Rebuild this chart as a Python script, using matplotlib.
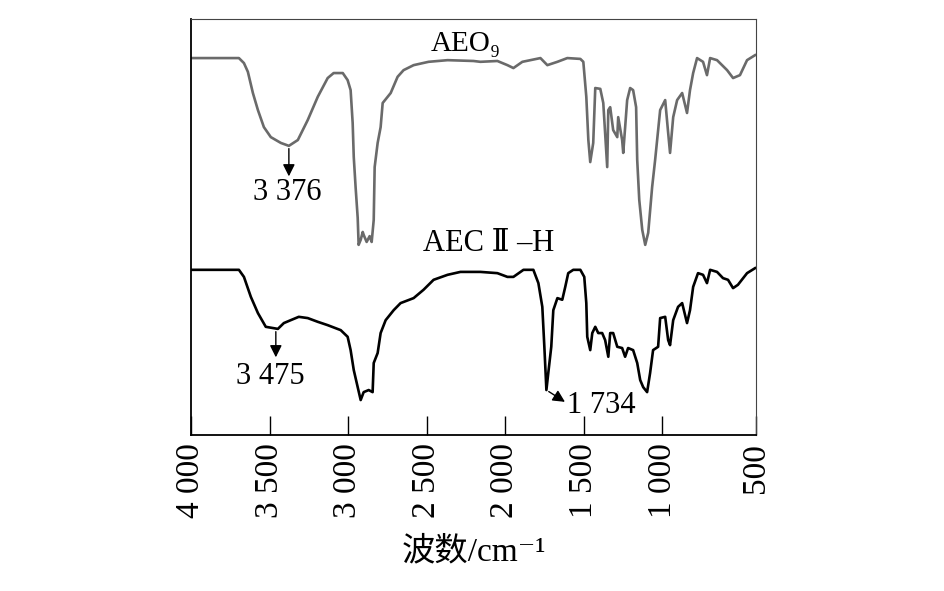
import numpy as np
import matplotlib
matplotlib.use("Agg")
import matplotlib.pyplot as plt

# font list: serif for latin text, fallbacks for roman numeral and chinese
fams = ['Liberation Serif', 'DejaVu Serif', 'Noto Sans CJK SC']
plt.rcParams['font.family'] = fams

# AEO9 spectrum (wavenumber cm-1, transmittance a.u.)
aeo_w = [3994, 3695, 3663, 3638, 3606, 3574, 3536, 3492, 3428, 3377, 3320, 3257, 3193,
         3130, 3092, 3034, 3003, 2984, 2971, 2964, 2952, 2939, 2933, 2920, 2907, 2901,
         2882, 2863, 2850, 2837, 2831, 2812, 2793, 2780, 2729, 2685, 2647, 2583, 2488,
         2367, 2202, 2158, 2050, 1986, 1948, 1891, 1776, 1732, 1668, 1605, 1522, 1503,
         1484, 1471, 1459, 1440, 1427, 1395, 1376, 1351, 1344, 1332, 1313, 1287, 1281,
         1256, 1249, 1224, 1205, 1186, 1167, 1160, 1147, 1128, 1109, 1090, 1065, 1046,
         1014, 982, 963, 951, 931, 906, 874, 843, 824, 804, 779, 741, 716, 696, 652,
         588, 550, 506, 461, 410]
aeo_t = [90.6, 90.6, 89.4, 87.3, 82.2, 78.1, 74.0, 71.6, 70.2, 69.5, 70.9, 75.7, 81.3,
         85.8, 87.0, 87.0, 85.3, 82.9, 75.0, 66.8, 59.4, 52.2, 45.7, 46.9, 48.8, 48.1,
         46.4, 47.8, 46.4, 51.7, 64.4, 70.2, 74.0, 79.8, 82.2, 86.1, 87.7, 88.9, 89.7,
         90.1, 89.9, 89.7, 89.9, 88.9, 88.2, 89.7, 90.6, 88.9, 89.7, 90.6, 90.4, 89.7,
         81.3, 70.9, 65.6, 70.2, 83.4, 83.2, 79.8, 64.4, 78.1, 78.8, 73.3, 71.6, 76.4,
         70.9, 67.8, 80.5, 83.4, 82.9, 78.8, 66.1, 56.5, 49.3, 45.7, 48.6, 59.6, 66.1,
         78.1, 80.5, 72.6, 67.8, 76.4, 80.5, 82.2, 77.4, 82.9, 87.0, 90.6, 89.7, 86.5,
         90.6, 90.1, 87.7, 85.8, 86.5, 90.1, 91.3]

# AECII-H spectrum
aec_w = [3994, 3695, 3663, 3619, 3574, 3524, 3447, 3409, 3365, 3314, 3257, 3193, 3130,
         3047, 3003, 2984, 2964, 2939, 2920, 2901, 2869, 2844, 2837, 2812, 2793, 2761,
         2710, 2666, 2583, 2520, 2456, 2367, 2285, 2158, 2050, 1986, 1948, 1884, 1821,
         1789, 1764, 1751, 1738, 1726, 1707, 1694, 1668, 1637, 1618, 1599, 1567, 1522,
         1497, 1484, 1478, 1459, 1446, 1427, 1408, 1383, 1364, 1344, 1332, 1313, 1287,
         1256, 1237, 1218, 1186, 1160, 1141, 1122, 1097, 1078, 1059, 1027, 1014, 982,
         963, 951, 931, 900, 874, 843, 824, 804, 773, 741, 716, 696, 652, 614, 582,
         550, 519, 461, 410]
aec_t = [39.7, 39.7, 38.0, 33.2, 29.3, 26.0, 25.5, 26.9, 27.6, 28.4, 28.1, 27.2, 26.4,
         25.2, 23.6, 20.4, 15.6, 11.5, 8.4, 10.3, 10.8, 10.3, 17.3, 19.7, 24.5, 27.6,
         30.0, 31.7, 32.9, 34.9, 37.3, 38.5, 39.2, 39.2, 38.9, 38.0, 38.0, 39.7, 39.7,
         36.5, 30.8, 21.2, 10.8, 14.9, 21.2, 30.0, 32.9, 32.5, 35.6, 38.9, 39.7, 39.7,
         38.0, 31.7, 23.6, 20.4, 24.5, 26.0, 24.5, 24.5, 22.8, 18.8, 24.5, 24.5, 21.2,
         20.9, 18.8, 20.9, 20.4, 17.3, 13.2, 11.5, 10.3, 14.9, 20.4, 21.2, 28.1, 28.4,
         22.8, 21.6, 27.6, 30.8, 31.7, 26.9, 30.0, 35.6, 38.9, 38.5, 36.5, 39.7, 39.2,
         37.7, 37.3, 35.3, 36.1, 38.9, 40.1]

tick_pos = [4000, 3500, 3000, 2500, 2000, 1500, 1000, 404]
tick_lab = ["4 000", "3 500", "3 000", "2 500", "2 000", "1 500", "1 000", "500"]

fig = plt.figure(figsize=(9.45, 5.91), dpi=100)
ax = fig.add_axes([0.2021, 0.264, 0.5979, 0.7039])

ax.plot(aeo_w, aeo_t, color='#6a6a6a', lw=1.9)
ax.plot(aec_w, aec_t, color='black', lw=1.9)

ax.set_xlim(4000, 404)
ax.set_ylim(0, 100)
ax.set_yticks([])
ax.set_xticks(tick_pos)
ax.set_xticklabels(tick_lab, rotation=90, fontsize=24)
ax.tick_params(axis='x', direction='in', length=14, width=1, pad=6)
ax.set_xlabel("波数/cm⁻¹", fontsize=24, labelpad=13)

for s in ['left', 'bottom']:
    ax.spines[s].set_linewidth(1.3)
for s in ['top', 'right']:
    ax.spines[s].set_linewidth(0.8)
    ax.spines[s].set_color('#444444')

# curve names
ax.text(2475, 94.0, "AEO₉", fontsize=21, ha='left', va='center')
ax.text(2526, 46.0, "AEC Ⅱ –H", fontsize=22, ha='left', va='center')

# peak marks
arw = dict(arrowstyle='-|>', color='black', lw=1.0, mutation_scale=18)
ax.annotate("", xy=(3377, 61.5), xytext=(3377, 69.5), arrowprops=arw)
ax.text(3387, 58.3, "3 376", fontsize=22, ha='center', va='center')
ax.annotate("", xy=(3460, 18.0), xytext=(3460, 25.5), arrowprops=arw)
ax.text(3492, 14.0, "3 475", fontsize=22, ha='center', va='center')
ax.annotate("", xy=(1605, 7.6), xytext=(1738, 10.8), arrowprops=arw)
ax.text(1605, 7.0, "1 734", fontsize=22, ha='left', va='center')

fig.savefig("out.png", dpi=100)
